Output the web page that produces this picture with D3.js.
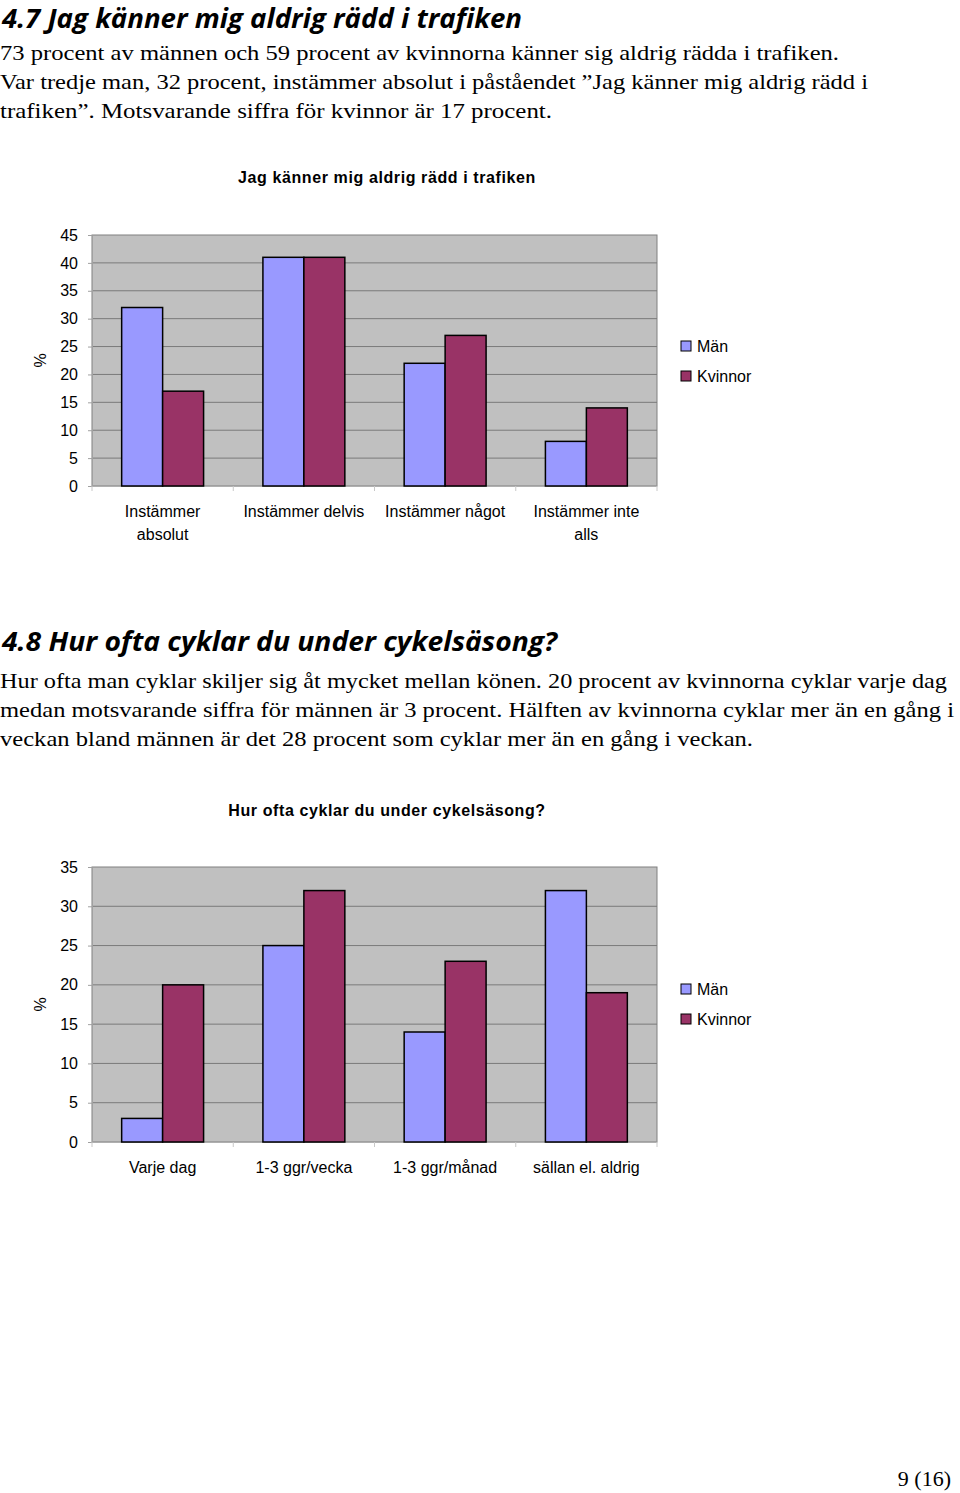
<!DOCTYPE html>
<html>
<head>
<meta charset="utf-8">
<script src="https://cdn.jsdelivr.net/npm/d3@7"></script>
<style>
  body { margin: 0; background: #fff; }
  svg text { fill: #000; }
</style>
</head>
<body>
<svg id="page" width="960" height="1493"></svg>
<script>
// chart 1 data
var cats1 = ['Instämmer absolut', 'Instämmer delvis', 'Instämmer något', 'Instämmer inte alls'];
var catLines1 = [['Instämmer', 'absolut'], ['Instämmer delvis'], ['Instämmer något'], ['Instämmer inte', 'alls']];
var man1 = [32, 41, 22, 8];
var kvinnor1 = [17, 41, 27, 14];
var ticks1 = [0, 5, 10, 15, 20, 25, 30, 35, 40, 45];

// chart 2 data
var cats2 = ['Varje dag', '1-3 ggr/vecka', '1-3 ggr/månad', 'sällan el. aldrig'];
var catLines2 = [['Varje dag'], ['1-3 ggr/vecka'], ['1-3 ggr/månad'], ['sällan el. aldrig']];
var man2 = [3, 25, 14, 32];
var kvinnor2 = [20, 32, 23, 19];
var ticks2 = [0, 5, 10, 15, 20, 25, 30, 35];

var seriesNames = ['Män', 'Kvinnor'];
var colors = ['#9999ff', '#993366'];

var svg = d3.select('#page');

var serif = "'Liberation Serif', 'DejaVu Serif', serif";
var headFont = "'Open Sans', 'Noto Sans', sans-serif";
var chartFont = "'Liberation Sans', Arial, sans-serif";

function heading(txt, y, w){
  svg.append('text')
    .attr('x', 2).attr('y', y)
    .attr('textLength', w).attr('lengthAdjust', 'spacingAndGlyphs')
    .style('font-family', headFont)
    .style('font-weight', 'bold')
    .style('font-style', 'italic')
    .style('font-size', '26px')
    .text(txt);
}

// lines: [text, right edge]
function para(lines, y0){
  lines.forEach(function(l, i){
    svg.append('text')
      .attr('x', 0).attr('y', y0 + i * 29)
      .attr('textLength', l[1]).attr('lengthAdjust', 'spacingAndGlyphs')
      .style('font-family', serif)
      .style('font-size', '22px')
      .text(l[0]);
  });
}

heading('4.7 Jag känner mig aldrig rädd i trafiken', 28, 520);
para([
  ['73 procent av männen och 59 procent av kvinnorna känner sig aldrig rädda i trafiken.', 839],
  ['Var tredje man, 32 procent, instämmer absolut i påståendet ”Jag känner mig aldrig rädd i', 868],
  ['trafiken”.  Motsvarande siffra för kvinnor är 17 procent.', 552]
], 60);

heading('4.8 Hur ofta cyklar du under cykelsäsong?', 651, 555);
para([
  ['Hur ofta man cyklar skiljer sig åt mycket mellan könen. 20 procent av kvinnorna cyklar varje dag', 947],
  ['medan motsvarande siffra för männen är 3 procent. Hälften av kvinnorna cyklar mer än en gång i', 954],
  ['veckan bland männen är det 28 procent som cyklar mer än en gång i veckan.', 753]
], 688);

svg.append('text')
  .attr('x', 951).attr('y', 1486)
  .attr('text-anchor', 'end')
  .style('font-family', serif)
  .style('font-size', '22px')
  .text('9 (16)');

function barChart(opt){
  var left = 92, right = 657;
  var x = d3.scaleBand().domain(opt.cats).range([left, right]).paddingInner(0.42).paddingOuter(0.21);
  var xs = d3.scaleBand().domain(seriesNames).range([0, x.bandwidth()]);
  var y = d3.scaleLinear().domain([0, d3.max(opt.ticks)]).range([opt.bottom, opt.top]);

  var g = svg.append('g');

  // plot background
  g.append('rect')
    .attr('x', left).attr('y', opt.top)
    .attr('width', right - left).attr('height', opt.bottom - opt.top)
    .attr('fill', '#c0c0c0')
    .attr('stroke', '#808080').attr('stroke-width', 1);

  // gridlines
  g.selectAll('.grid').data(opt.ticks.slice(1, -1)).enter().append('line')
    .attr('x1', left).attr('x2', right)
    .attr('y1', function(d){ return y(d); }).attr('y2', function(d){ return y(d); })
    .attr('stroke', '#7a7a7a').attr('stroke-width', 1);

  // y axis
  var ya = g.append('g')
    .attr('transform', 'translate(' + left + ',0)')
    .call(d3.axisLeft(y).tickValues(opt.ticks).tickSize(4).tickPadding(10));
  ya.select('.domain').attr('stroke', '#a0a0a0');
  ya.selectAll('.tick line').attr('stroke', '#a0a0a0');
  ya.selectAll('text')
    .style('font-family', chartFont).style('font-size', '16px').attr('fill', '#000');

  // x axis
  var bounds = opt.cats.map(function(c){ return x(c) - x.step() * x.paddingInner() / 2; });
  bounds.push(right);
  var xa = g.append('g').attr('transform', 'translate(0,' + opt.bottom + ')');
  xa.append('line').attr('x1', left).attr('x2', right).attr('stroke', '#a0a0a0');
  xa.selectAll('.xt').data(bounds).enter().append('line')
    .attr('x1', function(d){ return d; }).attr('x2', function(d){ return d; })
    .attr('y1', 0).attr('y2', 5).attr('stroke', '#c8c8c8');

  opt.catLines.forEach(function(lines, i){
    var cx = x(opt.cats[i]) + x.bandwidth() / 2;
    lines.forEach(function(l, j){
      g.append('text')
        .attr('x', cx).attr('y', opt.bottom + 31 + j * 23)
        .attr('text-anchor', 'middle')
        .style('font-family', chartFont).style('font-size', '16px')
        .text(l);
    });
  });

  // bars
  var series = [opt.man, opt.kvinnor];
  series.forEach(function(vals, s){
    g.selectAll('.bar' + s).data(vals).enter().append('rect')
      .attr('x', function(d, i){ return x(opt.cats[i]) + xs(seriesNames[s]); })
      .attr('y', function(d){ return y(d); })
      .attr('width', xs.bandwidth())
      .attr('height', function(d){ return y(0) - y(d); })
      .attr('fill', colors[s])
      .attr('stroke', '#000').attr('stroke-width', 1.5);
  });

  // y label
  g.append('text')
    .attr('transform', 'translate(46,' + ((opt.top + opt.bottom) / 2) + ') rotate(-90)')
    .attr('text-anchor', 'middle')
    .style('font-family', chartFont).style('font-size', '16px')
    .text('%');

  // title
  g.append('text')
    .attr('x', 387).attr('y', opt.titleY)
    .attr('text-anchor', 'middle')
    .style('font-family', chartFont).style('font-size', '16px')
    .style('font-weight', 'bold').style('letter-spacing', '0.6px')
    .text(opt.title);

  // legend
  seriesNames.forEach(function(n, i){
    var ly = opt.legendY + i * 30;
    g.append('rect')
      .attr('x', 681).attr('y', ly - 5).attr('width', 10).attr('height', 10)
      .attr('fill', colors[i]).attr('stroke', '#000').attr('stroke-width', 1);
    g.append('text')
      .attr('x', 697).attr('y', ly + 6)
      .style('font-family', chartFont).style('font-size', '16px')
      .text(n);
  });
}

barChart({
  cats: cats1, catLines: catLines1, man: man1, kvinnor: kvinnor1, ticks: ticks1,
  top: 235, bottom: 486, title: 'Jag känner mig aldrig rädd i trafiken', titleY: 183, legendY: 346
});

barChart({
  cats: cats2, catLines: catLines2, man: man2, kvinnor: kvinnor2, ticks: ticks2,
  top: 867, bottom: 1142, title: 'Hur ofta cyklar du under cykelsäsong?', titleY: 816, legendY: 989
});
</script>
</body>
</html>
